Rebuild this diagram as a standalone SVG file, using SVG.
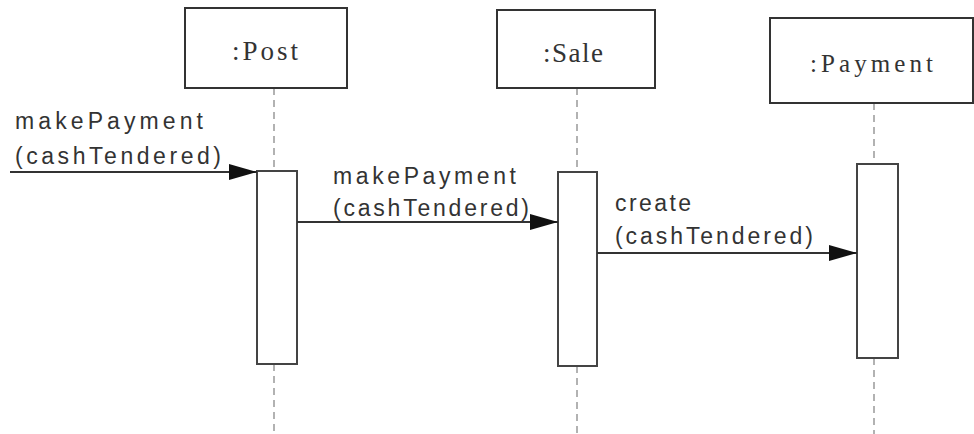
<svg xmlns="http://www.w3.org/2000/svg" width="974" height="434" viewBox="0 0 974 434">
<style>
.box{fill:#fff;stroke:#333;stroke-width:2}
.act{fill:#fff;stroke:#444;stroke-width:2}
.life{stroke:#999;stroke-width:1.5;stroke-dasharray:7 5;fill:none}
.msg{stroke:#333;stroke-width:2;fill:none}
.title{font-family:"Liberation Serif",serif;font-size:27px;fill:#333}
.lbl{font-family:"Liberation Sans",sans-serif;font-size:23px;fill:#333}
</style>
<defs>
<marker id="arr" viewBox="0 0 28 16" refX="28" refY="8" markerWidth="28" markerHeight="16" markerUnits="userSpaceOnUse" orient="auto">
<path d="M0,0 L28,8 L0,16 Z" fill="#111"/>
</marker>
</defs>
<g id="lifelines">
<line class="life" x1="274" y1="88" x2="274" y2="171"/>
<line class="life" x1="274" y1="364" x2="274" y2="434"/>
<line class="life" x1="577" y1="88" x2="577" y2="172"/>
<line class="life" x1="577" y1="366" x2="577" y2="434"/>
<line class="life" x1="874" y1="103" x2="874" y2="164"/>
<line class="life" x1="874" y1="358" x2="874" y2="434"/>
</g>
<g id="post">
<rect class="box" x="185" y="8" width="162" height="80"/>
<text class="title" x="232" y="60" textLength="66" lengthAdjust="spacing">:Post</text>
</g>
<g id="sale">
<rect class="box" x="497" y="10" width="158" height="78"/>
<text class="title" x="543" y="62" textLength="60" lengthAdjust="spacing">:Sale</text>
</g>
<g id="payment">
<rect class="box" x="770" y="18" width="203" height="85"/>
<text class="title" x="810" y="72" textLength="123" lengthAdjust="spacing" style="font-size:25px">:Payment</text>
</g>
<g id="post-activation"><rect class="act" x="257" y="171" width="40" height="193"/></g>
<g id="sale-activation"><rect class="act" x="558" y="172" width="39" height="194"/></g>
<g id="payment-activation"><rect class="act" x="857" y="164" width="41" height="194"/></g>
<g id="connectors">
<line class="msg" x1="10" y1="172" x2="257" y2="172" marker-end="url(#arr)"/>
<line class="msg" x1="297" y1="222" x2="558" y2="222" marker-end="url(#arr)"/>
<line class="msg" x1="597" y1="253" x2="857" y2="253" marker-end="url(#arr)"/>
</g>
<g id="labels">
<text class="lbl" x="15" y="129" textLength="188" lengthAdjust="spacing">makePayment</text>
<text class="lbl" x="15" y="164" textLength="206" lengthAdjust="spacing">(cashTendered)</text>
<text class="lbl" x="333" y="184" textLength="183" lengthAdjust="spacing">makePayment</text>
<text class="lbl" x="333" y="216" textLength="196" lengthAdjust="spacing">(cashTendered)</text>
<text class="lbl" x="615" y="211" textLength="76" lengthAdjust="spacing">create</text>
<text class="lbl" x="615" y="244" textLength="198" lengthAdjust="spacing">(cashTendered)</text>
</g>
</svg>
